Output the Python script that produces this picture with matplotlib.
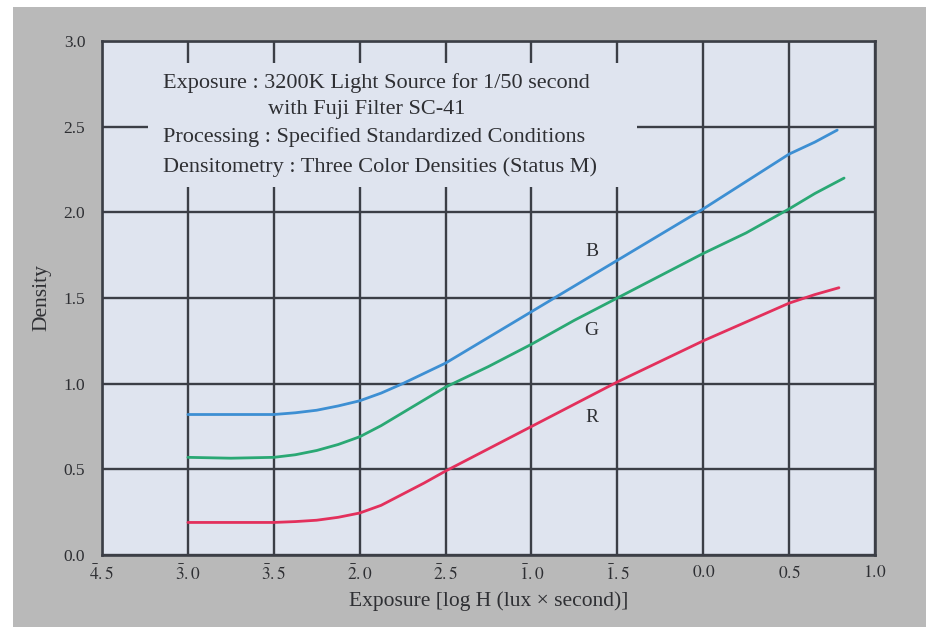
import matplotlib.pyplot as plt
from matplotlib.patches import Rectangle

plt.rcParams["font.family"] = ["Liberation Serif", "DejaVu Serif"]
plt.rcParams["mathtext.fontset"] = "stix"

# log H exposure values (bar notation on the axis)
exposure_b = [-3.0, -2.75, -2.5, -2.375, -2.25, -2.125, -2.0, -1.875, -1.75, -1.5,
              -1.25, -1.0, -0.75, -0.5, -0.25, 0.0, 0.25, 0.5, 0.65, 0.78]
density_b = [0.82, 0.82, 0.82, 0.83, 0.845, 0.87, 0.90, 0.945, 1.0, 1.12,
             1.27, 1.42, 1.57, 1.72, 1.87, 2.02, 2.18, 2.34, 2.41, 2.48]

exposure_g = [-3.0, -2.75, -2.5, -2.375, -2.25, -2.125, -2.0, -1.875, -1.75, -1.625,
              -1.5, -1.25, -1.0, -0.75, -0.5, -0.25, 0.0, 0.25, 0.5, 0.65, 0.82]
density_g = [0.57, 0.565, 0.57, 0.585, 0.61, 0.645, 0.69, 0.755, 0.83, 0.905,
             0.98, 1.10, 1.23, 1.37, 1.50, 1.63, 1.76, 1.88, 2.02, 2.11, 2.20]

exposure_r = [-3.0, -2.75, -2.5, -2.375, -2.25, -2.125, -2.0, -1.875, -1.75, -1.625,
              -1.5, -1.25, -1.0, -0.75, -0.5, -0.25, 0.0, 0.25, 0.5, 0.65, 0.79]
density_r = [0.19, 0.19, 0.19, 0.195, 0.203, 0.22, 0.245, 0.29, 0.355, 0.42,
             0.49, 0.62, 0.75, 0.88, 1.01, 1.13, 1.25, 1.36, 1.47, 1.52, 1.56]

x_ticks = [-3.5, -3.0, -2.5, -2.0, -1.5, -1.0, -0.5, 0.0, 0.5, 1.0]
x_labels = [r"$\bar{4}.5$", r"$\bar{3}.0$", r"$\bar{3}.5$", r"$\bar{2}.0$",
            r"$\bar{2}.5$", r"$\bar{1}.0$", r"$\bar{1}.5$", "$0.0$", "$0.5$", "$1.0$"]
y_ticks = [0.0, 0.5, 1.0, 1.5, 2.0, 2.5, 3.0]

notes = [
    "Exposure : 3200K Light Source for 1/50 second",
    "with Fuji Filter SC-41",
    "Processing : Specified Standardized Conditions",
    "Densitometry : Three Color Densities (Status M)",
]

bg = "#b9b9b9"
face = "#dfe4ef"
ink = "#2e2f33"
grid_c = "#3b3e46"

fig = plt.figure(figsize=(9.26, 6.27), dpi=100, facecolor="white")
fig.patches.append(Rectangle((13 / 926, 0), 1, 1 - 7 / 627, transform=fig.transFigure,
                             facecolor=bg, edgecolor="none", zorder=-5))
ax = fig.add_axes([102 / 926, 72 / 627, 773 / 926, 514 / 627])
ax.set_facecolor(face)

ax.set_xlim(-3.5, 1.0)
ax.set_ylim(0.0, 3.0)
ax.set_xticks(x_ticks)
ax.set_xticklabels(x_labels)
ax.set_yticks(y_ticks)
ax.set_yticklabels([f"{v:.1f}" for v in y_ticks])
ax.tick_params(length=0, labelsize=12.5, colors=ink)
ax.tick_params(axis="y", pad=12)
ax.tick_params(axis="x", pad=7)

ax.set_axisbelow(True)
ax.grid(True, color=grid_c, linewidth=1.7)
for s in ax.spines.values():
    s.set_color(grid_c)
    s.set_linewidth(1.9)

# box behind the notes hides the grid
ax.add_patch(Rectangle((0.0595, 0.716), 0.6325, 0.241, transform=ax.transAxes,
                       facecolor=face, edgecolor="none", zorder=1))

line_kw = dict(linewidth=2, zorder=3, solid_joinstyle="round", solid_capstyle="round")
ax.plot(exposure_b, density_b, color="#3d8fd3", **line_kw)
ax.plot(exposure_g, density_g, color="#2aa874", **line_kw)
ax.plot(exposure_r, density_r, color="#e3305c", **line_kw)

ax.text(-0.65, 1.77, "B", fontsize=14, color=ink, ha="center", va="center", zorder=4)
ax.text(-0.65, 1.31, "G", fontsize=14, color=ink, ha="center", va="center", zorder=4)
ax.text(-0.65, 0.80, "R", fontsize=14, color=ink, ha="center", va="center", zorder=4)

note_kw = dict(transform=ax.transAxes, fontsize=16, color=ink, va="center", zorder=4)
ax.text(0.079, 0.918, notes[0], **note_kw)
ax.text(0.215, 0.866, notes[1], **note_kw)
ax.text(0.079, 0.813, notes[2], **note_kw)
ax.text(0.079, 0.755, notes[3], **note_kw)

ax.set_xlabel("Exposure [log H (lux \u00d7 second)]", fontsize=15.5, color=ink, labelpad=5)
ax.set_ylabel("Density", fontsize=15.5, color=ink, labelpad=9)

fig.savefig("out.png", dpi=100, facecolor=fig.get_facecolor())
